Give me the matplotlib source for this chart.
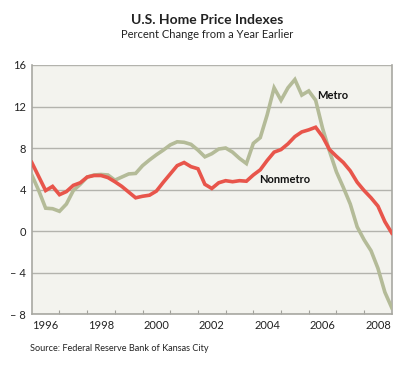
import numpy as np
import matplotlib.pyplot as plt
from matplotlib.ticker import FixedLocator

# quarterly, 1996Q1 .. 2009Q1 (percent change from a year earlier)
quarters = np.arange(53) * 0.25 + 1996
nonmetro = [6.6, 5.25, 3.9, 4.3, 3.5, 3.8, 4.4, 4.65, 5.2, 5.35, 5.35, 5.15, 4.75,
            4.3, 3.75, 3.2, 3.35, 3.45, 3.85, 4.7, 5.5, 6.3, 6.6, 6.2, 6.0, 4.5,
            4.1, 4.65, 4.85, 4.75, 4.85, 4.8, 5.4, 5.9, 6.8, 7.6, 7.85, 8.4, 9.1,
            9.55, 9.75, 10.0, 9.1, 7.85, 7.2, 6.6, 5.8, 4.7, 3.9, 3.2, 2.4, 0.9, -0.2]
metro = [5.4, 3.9, 2.2, 2.15, 1.9, 2.6, 3.9, 4.5, 5.2, 5.4, 5.45, 5.4, 4.9,
         5.2, 5.5, 5.55, 6.3, 6.85, 7.35, 7.8, 8.3, 8.6, 8.55, 8.35, 7.8, 7.15,
         7.45, 7.9, 8.0, 7.6, 7.0, 6.5, 8.45, 9.0, 11.2, 13.8, 12.6, 13.8, 14.6,
         13.1, 13.5, 12.6, 9.9, 7.7, 5.7, 4.2, 2.6, 0.4, -0.85, -1.9, -3.6, -5.9, -7.4]
year_labels = [1996, 1998, 2000, 2002, 2004, 2006, 2008]
y_ticks = [-8, -4, 0, 4, 8, 12, 16]

plt.rcParams['font.family'] = ['Lato', 'DejaVu Sans']

fig = plt.figure(figsize=(4.15, 3.71), dpi=100)
fig.patch.set_facecolor('white')
ax = fig.add_axes([0.0766, 0.1536, 0.8675, 0.6712])
ax.set_facecolor('#f3f3ee')

ax.plot(quarters, metro, color='#b4bb98', linewidth=2.6, solid_joinstyle='miter', zorder=3)
ax.plot(quarters, nonmetro, color='#e8554b', linewidth=2.6, solid_joinstyle='miter', zorder=4)

ax.set_xlim(1996, 2009)
ax.set_ylim(-8, 16)

ax.set_yticks(y_ticks)
ax.set_yticklabels([str(v).replace('-', '\u2013 ') for v in y_ticks])
ax.yaxis.grid(True, color='#b3b3ad', linewidth=1)
ax.tick_params(axis='y', length=0, pad=4, labelsize=8, colors='#222222')

# year boundaries get small inward ticks, labels sit mid-year
ax.xaxis.set_major_locator(FixedLocator(np.arange(1997, 2009)))
ax.xaxis.set_minor_locator(FixedLocator([y + 0.5 for y in year_labels]))
ax.set_xticklabels([], minor=False)
ax.set_xticklabels([str(y) for y in year_labels], minor=True)
ax.tick_params(axis='x', which='major', direction='in', length=3, color='#a0a09a')
ax.tick_params(axis='x', which='minor', length=0, pad=4, labelsize=8, colors='#222222')

for side in ['left', 'right', 'bottom']:
    ax.spines[side].set_color('#a8a8a2')
    ax.spines[side].set_linewidth(1.2)
ax.spines['top'].set_visible(False)
ax.set_axisbelow(True)

ax.text(2006.3, 13.1, 'Metro', fontsize=8, fontweight='bold', color='#111111', va='center')
ax.text(2004.2, 5.0, 'Nonmetro', fontsize=8, fontweight='bold', color='#111111', va='center')

fig.text(0.5, 0.935, 'U.S. Home Price Indexes', ha='center', fontsize=10, fontweight='bold', color='#222222')
fig.text(0.5, 0.898, 'Percent Change from a Year Earlier', ha='center', fontsize=8, color='#222222')
fig.text(0.072, 0.055, 'Source: Federal Reserve Bank of Kansas City', fontsize=6.6, color='#222222')

fig.savefig('out.png', dpi=100)
